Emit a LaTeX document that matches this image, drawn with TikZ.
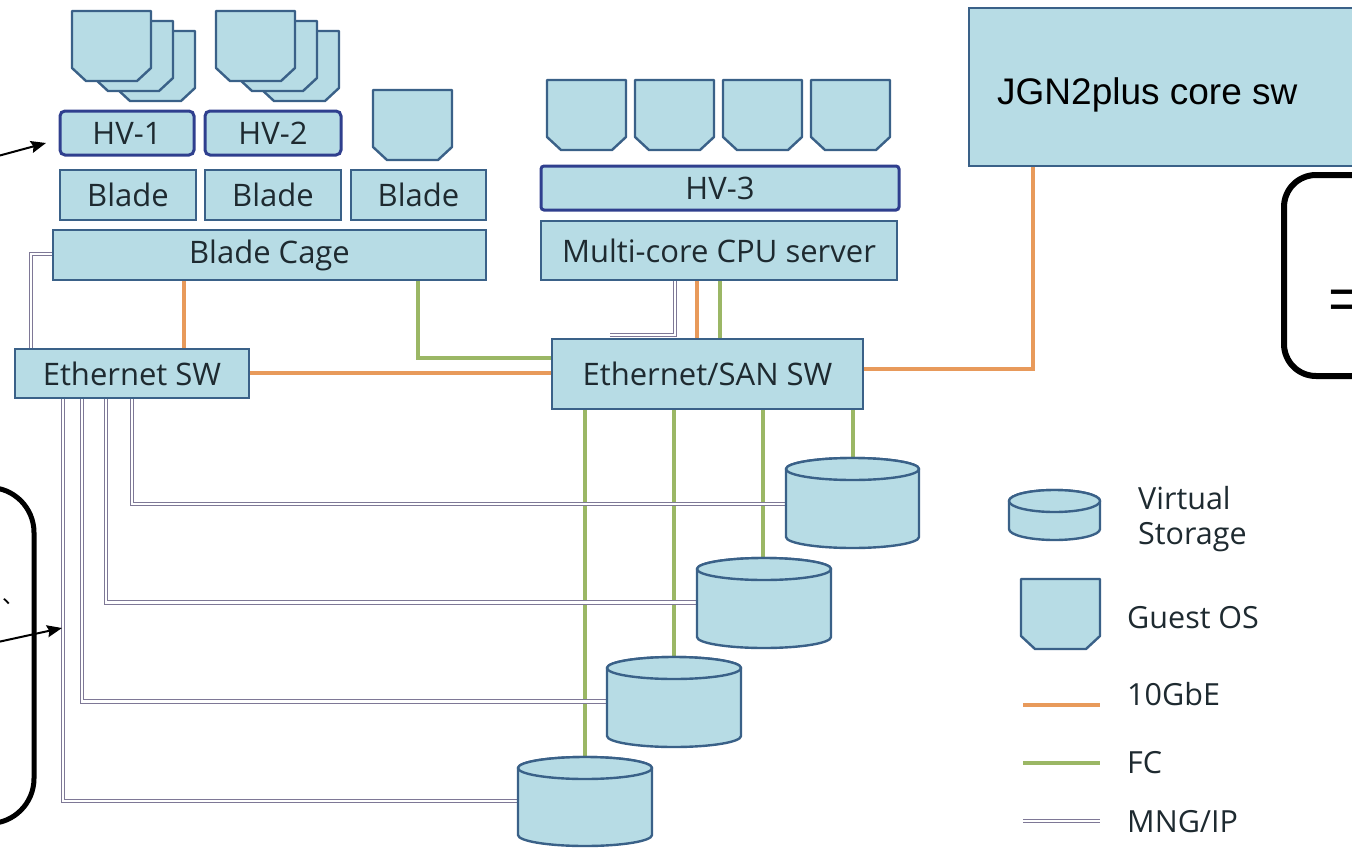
\documentclass[tikz,border=0pt]{standalone}
\usepackage{fontspec}
\usetikzlibrary{arrows.meta}
\setmainfont{Open Sans}
\newfontfamily\arialf{Liberation Sans}
\newfontfamily\cjkf{Noto Sans CJK JP}
\definecolor{boxfill}{HTML}{B7DCE5}
\definecolor{boxline}{HTML}{3A6188}
\definecolor{hvline}{HTML}{2F3F8E}
\definecolor{txt}{HTML}{1E2A30}
\definecolor{orangeL}{HTML}{E89A5B}
\definecolor{greenL}{HTML}{9BB765}
\definecolor{mngL}{HTML}{7E7896}
\tikzset{
  box/.style={draw=boxline,fill=boxfill,line width=2.8pt,inner sep=0pt,text=txt,font=\fontsize{31}{34}\selectfont},
  hvbox/.style={box,draw=hvline,rounded corners=5pt,line width=3pt},
  osshape/.style={draw=boxline,fill=boxfill,line width=2.4pt,line join=round},
  tenG/.style={draw=orangeL,line width=4.5pt},
  fcL/.style={draw=greenL,line width=4.5pt},
  mng/.style={draw=mngL,line width=1.3pt,double=white,double distance=2.2pt},
  callout/.style={draw=black,line width=5pt,rounded corners=45pt},
  calloutr/.style={draw=black,line width=6pt,rounded corners=32pt},
  note/.style={-{Stealth[length=15pt,width=12pt,inset=2pt]},line width=2pt,black},
  legendtext/.style={text=txt,inner sep=0pt,anchor=west,font=\fontsize{30.5}{33}\selectfont},
}
\newcommand{\guestos}[2]{\draw[osshape,shift={(#1,#2)}] (0,0) -- (79,0) -- (79,57) -- (65,70) -- (14,70) -- (0,57) -- cycle;}
\newcommand{\drum}[4]{\draw[osshape,shift={(#1,#2)}] (0,11) -- (0,#4-11) arc[start angle=180,end angle=0,x radius=#3/2,y radius=11] -- (#3,11) arc[start angle=0,end angle=-180,x radius=#3/2,y radius=11] -- cycle;
 \draw[osshape,shift={(#1,#2)}] (#3/2,11) ellipse[x radius=#3/2,y radius=11];}
\begin{document}
\begin{tikzpicture}[x=1pt,y=-1pt]
\useasboundingbox (0,0) rectangle (1352,851);
% guide coordinates
\coordinate (xa) at (184,0); \coordinate (xb) at (418,0); \coordinate (ym) at (0,358);
\coordinate (xc) at (31,0); \coordinate (yt) at (0,373); \coordinate (xj) at (1033,0);
\coordinate (yj) at (0,369); \coordinate (yc) at (0,254);
\coordinate (xm1) at (675,0); \coordinate (xm2) at (697,0); \coordinate (xm3) at (720,0);
\coordinate (stub) at (610,335);
\coordinate (d1) at (853,468); \coordinate (d2) at (763,568); \coordinate (d3) at (674,668); \coordinate (d4) at (585,767);
\coordinate (m1) at (786,504); \coordinate (m2) at (697,602.5); \coordinate (m3) at (607,701.5); \coordinate (m4) at (518,801);
\coordinate (xs1) at (132,0); \coordinate (xs2) at (106,0); \coordinate (xs3) at (82,0); \coordinate (xs4) at (63,0);
\coordinate (l1) at (1023,705); \coordinate (l2) at (1100,705);
\coordinate (l3) at (1023,763); \coordinate (l4) at (1100,763);
\coordinate (l5) at (1023,821); \coordinate (l6) at (1100,821);
\coordinate (a1s) at (-2,156); \coordinate (a1e) at (46,143);
\coordinate (a2s) at (-2,642); \coordinate (a2e) at (62,628);
% boxes
\node[box,minimum width=136pt,minimum height=50pt] (b1) at (128,195) {Blade};
\node[box,minimum width=136pt,minimum height=50pt] (b2) at (273,195) {Blade};
\node[box,minimum width=135pt,minimum height=50pt] (b3) at (418.5,195) {Blade};
\node[hvbox,minimum width=134pt,minimum height=44pt] (hv1) at (127,133) {HV-1};
\node[hvbox,minimum width=136pt,minimum height=44pt] (hv2) at (273,133) {HV-2};
\node[box,minimum width=433pt,minimum height=50pt] (cage) at (269.5,255) {Blade Cage};
\node[box,minimum width=234pt,minimum height=49pt] (esw) at (132,373.5) {Ethernet SW};
\node[box,minimum width=311pt,minimum height=70pt] (san) at (707.5,374) {Ethernet/SAN SW};
\node[box,minimum width=356pt,minimum height=59pt] (cpu) at (719,250.5) {Multi-core CPU server};
\node[hvbox,rounded corners=3pt,minimum width=358pt,minimum height=44pt] (hv3) at (720,188) {HV-3};
\node[box,minimum width=400pt,minimum height=158pt] (jgn) at (1169,87) {};
\node[anchor=west,inner sep=0pt,font=\arialf\fontsize{37}{40}\selectfont,text=black] (jgnt) at (997,95) {JGN2plus core sw};
% connectors
\draw[tenG] (cage.south -| xa) -- (esw.north -| xa);
\draw[tenG] (esw.east |- yt) -- (san.west |- yt);
\draw[fcL] (cage.south -| xb) |- (san.west |- ym);
\draw[tenG] (san.east |- yj) -| (jgn.south -| xj);
\draw[mng] (cage.west |- yc) -| (esw.north -| xc);
\draw[mng] (cpu.south -| xm1) |- (stub);
\draw[tenG] (cpu.south -| xm2) -- (san.north -| xm2);
\draw[fcL] (cpu.south -| xm3) -- (san.north -| xm3);
\draw[fcL] (san.south -| d1) -- (d1);
\draw[fcL] (san.south -| d2) -- (d2);
\draw[fcL] (san.south -| d3) -- (d3);
\draw[fcL] (san.south -| d4) -- (d4);
\draw[mng] (esw.south -| xs1) |- (m1);
\draw[mng] (esw.south -| xs2) |- (m2);
\draw[mng] (esw.south -| xs3) |- (m3);
\draw[mng] (esw.south -| xs4) |- (m4);
% guests
\foreach \x in {72,216}{
 \guestos{\x+44}{31}\guestos{\x+22}{21}\guestos{\x}{11}}
\guestos{373}{90}
\foreach \x in {547,635,723,811}{\guestos{\x}{80}}
% storage
\drum{786}{458}{133}{90}
\drum{697}{558}{134}{90}
\drum{607}{657}{134}{90}
\drum{518}{757}{134}{89}
% legend
\drum{1009}{490}{91}{50}
\guestos{1021}{579}
\draw[tenG] (l1) -- (l2);
\draw[fcL] (l3) -- (l4);
\draw[mng] (l5) -- (l6);
\node[legendtext] (t1) at (1138,498) {Virtual};
\node[legendtext] (t2) at (1138,537) {Storage};
\node[legendtext] (t3) at (1127,618) {Guest OS};
\node[legendtext] (t4) at (1127,694) {10GbE};
\node[legendtext] (t5) at (1127,763) {FC};
\node[legendtext] (t6) at (1127,822) {MNG/IP};
% callouts
\draw[calloutr] (1420,175) -- (1284,175) -- (1284,376) -- (1420,376);
\node[anchor=west,inner sep=0pt,font=\arialf\fontsize{60}{64}\selectfont,text=black] (eq) at (1328,305) {=};
\draw[callout] (-60,487.5) -- (34,487.5) -- (34,823.5) -- (-60,823.5);
\node[inner sep=0pt,font=\cjkf\fontsize{22}{26}\selectfont,text=black,anchor=center] (comma) at (13,602) {、};
\draw[note] (a1s) -- (a1e);
\draw[note] (a2s) -- (a2e);
\end{tikzpicture}
\end{document}
